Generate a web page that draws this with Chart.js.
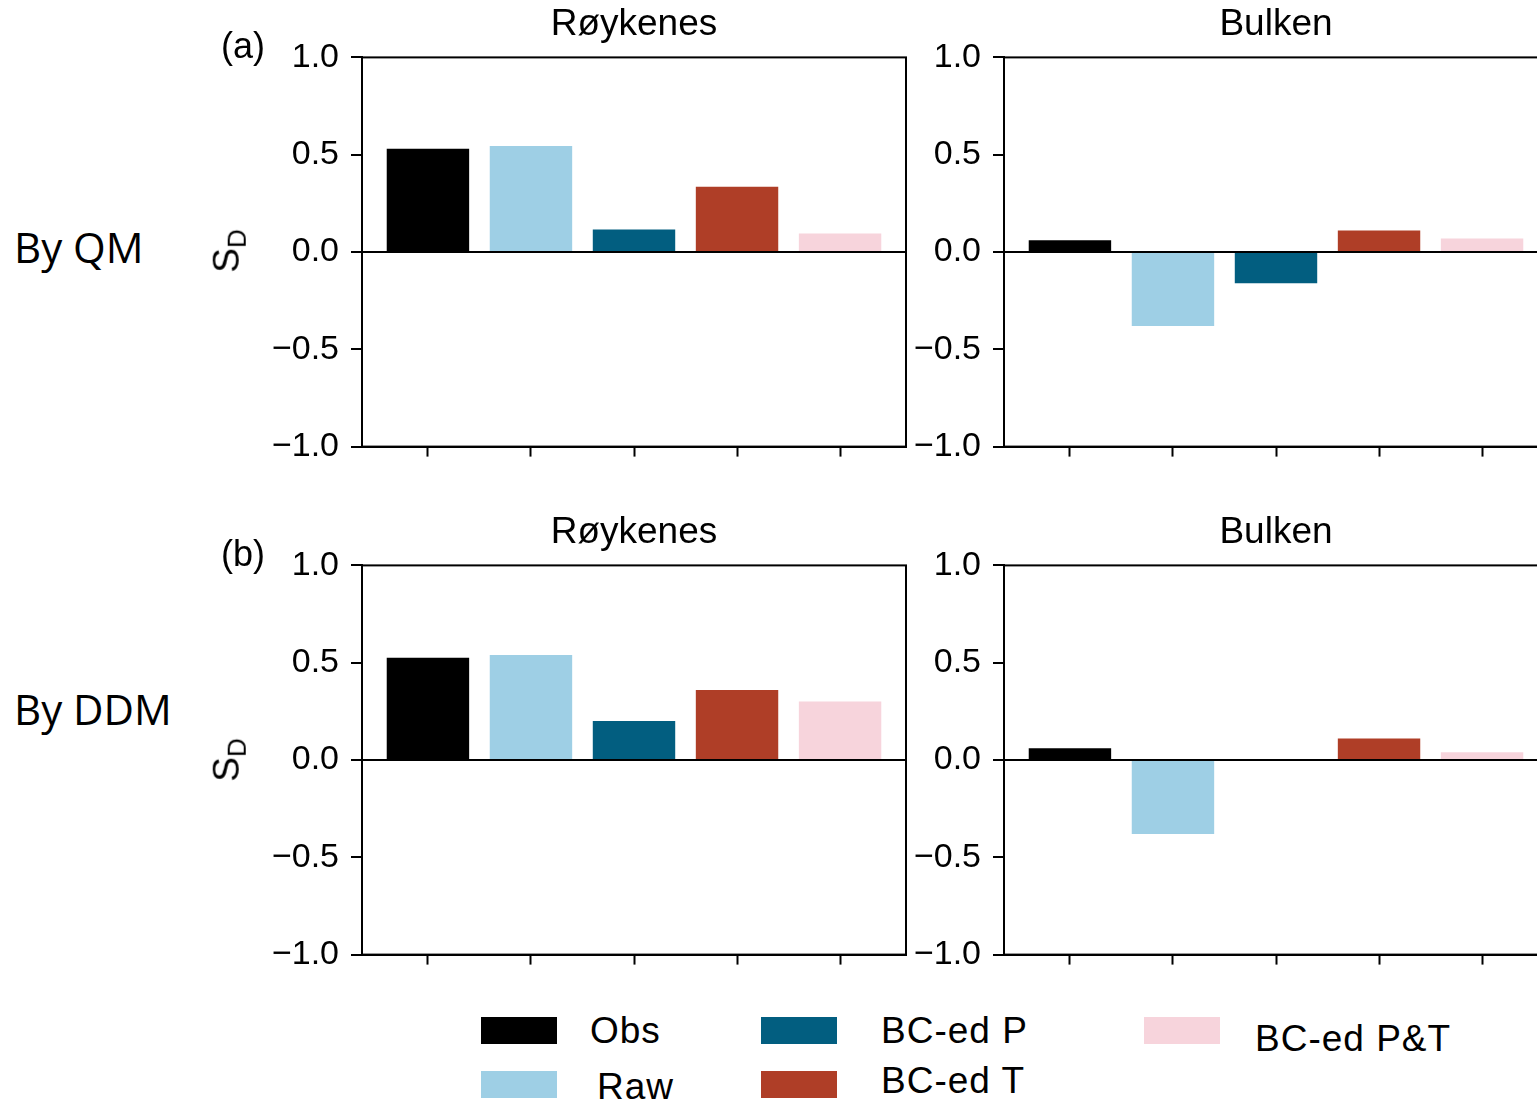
<!DOCTYPE html>
<html>
<head>
<meta charset="utf-8">
<script src="https://cdn.jsdelivr.net/npm/chart.js@4.4.1/dist/chart.umd.min.js"></script>
<style>
  html, body { margin: 0; padding: 0; background: #fff; }
  body { width: 1537px; height: 1102px; overflow: hidden; position: relative; font-family: "Liberation Sans", Arial, sans-serif; }
  canvas { position: absolute; }
  .lbl { position: absolute; white-space: nowrap; line-height: 1; color: #000; }
  .row { font-family: "Open Sans", sans-serif; font-size: 42px; }
  .pan { font-size: 36px; }
  .sd { font-size: 37px; transform: rotate(-90deg); transform-origin: center center; }
  .sd sub { font-size: 26px; vertical-align: -7px; }
  .box { position: absolute; width: 76px; height: 27px; }
  .leg { font-size: 37px; letter-spacing: 1px; }
</style>
</head>
<body>
<canvas id="qmRoy" width="700" height="479" style="left:240px;top:0px"></canvas>
<canvas id="qmBul" width="700" height="479" style="left:882px;top:0px"></canvas>
<canvas id="ddmRoy" width="700" height="479" style="left:240px;top:508px"></canvas>
<canvas id="ddmBul" width="700" height="479" style="left:882px;top:508px"></canvas>

<div class="lbl row" style="left:14px;top:226px">By QM</div>
<div class="lbl row" style="left:14px;top:688px">By DDM</div>
<div class="lbl pan" style="left:221px;top:28px">(a)</div>
<div class="lbl pan" style="left:221px;top:536px">(b)</div>
<div class="lbl sd" style="left:207px;top:230px">S<sub>D</sub></div>
<div class="lbl sd" style="left:207px;top:739px">S<sub>D</sub></div>

<div id="legend"></div>

<script>
const categories = ['Obs', 'Raw', 'BC-ed P', 'BC-ed T', 'BC-ed P&T'];
const colors = ['#000000', '#9ecfe5', '#025e80', '#af3e27', '#f7d4dc'];
const qmRoykenes = [0.53, 0.545, 0.115, 0.335, 0.095];
const qmBulken = [0.06, -0.38, -0.16, 0.11, 0.07];
const ddmRoykenes = [0.525, 0.54, 0.20, 0.36, 0.30];
const ddmBulken = [0.06, -0.38, 0.0, 0.11, 0.04];
const yTicks = [-1.0, -0.5, 0.0, 0.5, 1.0];

// legend placement (obs/raw, P/T, P&T columns)
const legendPos = [[481, 1017, 590, 1012], [481, 1071, 597, 1068], [761, 1017, 881, 1012], [761, 1071, 881, 1062], [1144, 1017, 1255, 1020]];
const leg = document.getElementById('legend');
categories.forEach(function(c, i) {
  const p = legendPos[i];
  const b = document.createElement('div');
  b.className = 'box';
  b.style.left = p[0] + 'px'; b.style.top = p[1] + 'px'; b.style.background = colors[i];
  leg.appendChild(b);
  const t = document.createElement('div');
  t.className = 'lbl leg';
  t.style.left = p[2] + 'px'; t.style.top = p[3] + 'px';
  t.textContent = c;
  leg.appendChild(t);
});

const frame = {
  id: 'frame',
  afterDatasetsDraw(chart) {
    const a = chart.chartArea, ctx = chart.ctx;
    ctx.save();
    ctx.strokeStyle = '#000';
    ctx.lineWidth = 2;
    ctx.strokeRect(a.left, a.top, a.right - a.left, a.bottom - a.top);
    ctx.restore();
  }
};

function fmt(v) {
  return (v < 0 ? '\u2212' : '') + Math.abs(v).toFixed(1);
}

function panel(id, title, values) {
  new Chart(document.getElementById(id), {
    type: 'bar',
    data: {
      datasets: [{
        data: values.map((v, i) => ({x: i, y: v})),
        backgroundColor: colors,
        borderWidth: 0,
        categoryPercentage: 1.0,
        barPercentage: 0.8
      }]
    },
    plugins: [frame],
    options: {
      responsive: false,
      animation: false,
      devicePixelRatio: 1,
      layout: { padding: { left: 0, right: 34, top: 0, bottom: 0 } },
      plugins: {
        legend: { display: false },
        tooltip: { enabled: false },
        title: {
          display: true,
          fullSize: false,
          text: title,
          color: '#000',
          font: { family: 'Liberation Sans', size: 37, weight: 'normal' },
          padding: { top: 3, bottom: 10 }
        }
      },
      scales: {
        x: {
          type: 'linear',
          min: -0.64,
          max: 4.64,
          offset: false,
          afterBuildTicks: s => { s.ticks = categories.map((c, i) => ({value: i})); },
          afterFit: s => { s.height = 23; },
          ticks: { callback: () => '', includeBounds: false },
          grid: { offset: false, drawOnChartArea: false, tickLength: 10, tickWidth: 2, tickColor: '#000' },
          border: { display: true, color: '#000', width: 2 }
        },
        y: {
          min: -1,
          max: 1,
          afterBuildTicks: s => { s.ticks = yTicks.map(v => ({value: v})); },
          afterFit: s => { s.width = 122; },
          ticks: {
            callback: v => fmt(v),
            color: '#000',
            padding: 12,
            font: { family: 'Liberation Sans', size: 34 }
          },
          grid: {
            z: 1,
            lineWidth: 2,
            color: c => (c.tick && c.tick.value === 0 ? '#000' : 'rgba(0,0,0,0)'),
            tickColor: '#000',
            tickWidth: 2,
            tickLength: 11
          },
          border: { display: true, color: '#000', width: 2, z: 1 }
        }
      }
    }
  });
}

panel('qmRoy', 'Røykenes', qmRoykenes);
panel('qmBul', 'Bulken', qmBulken);
panel('ddmRoy', 'Røykenes', ddmRoykenes);
panel('ddmBul', 'Bulken', ddmBulken);
</script>
</body>
</html>
